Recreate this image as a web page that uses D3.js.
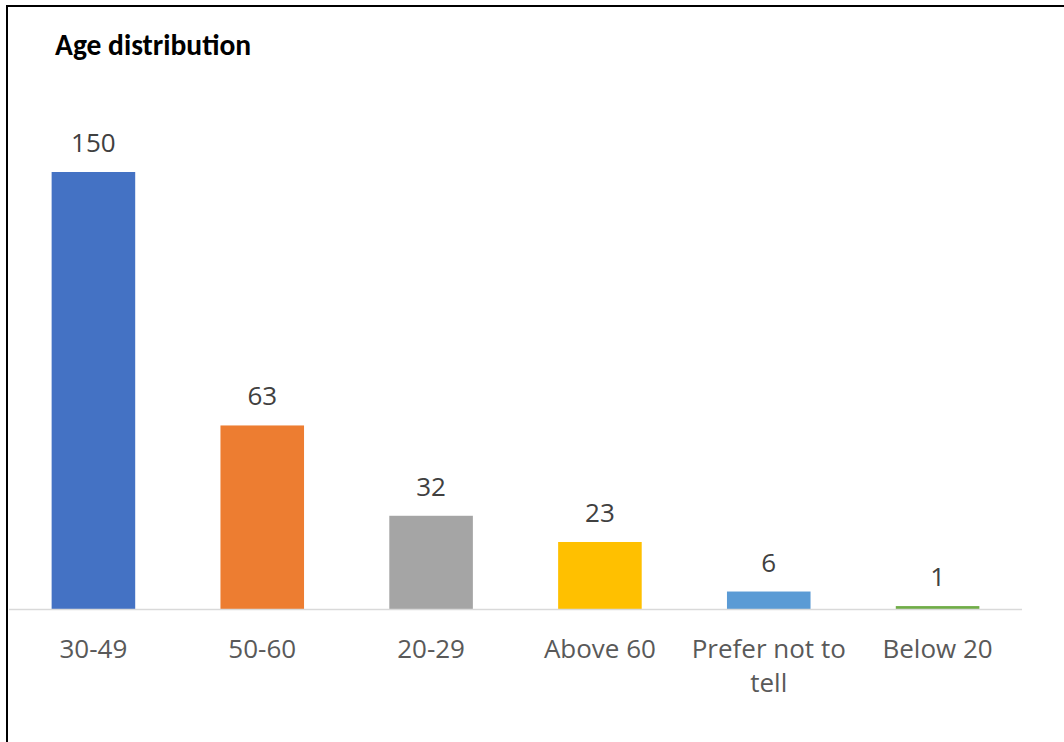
<!DOCTYPE html>
<html><head><meta charset="utf-8">
<script src="https://cdn.jsdelivr.net/npm/d3@7"></script>
<style>body{margin:0;background:#fff;}svg{display:block;}</style>
</head><body>
<svg id="c" width="1064" height="742"></svg>
<script>
const categories = ["30-49","50-60","20-29","Above 60","Prefer not to tell","Below 20"];
const labelLines = [["30-49"],["50-60"],["20-29"],["Above 60"],["Prefer not to","tell"],["Below 20"]];
const values = [150,63,32,23,6,1];
const colors = ["#4472C4","#ED7D31","#A5A5A5","#FFC000","#5B9BD5","#70AD47"];

const svg = d3.select("#c");
svg.append("rect").attr("x",0).attr("y",0).attr("width",1064).attr("height",742).attr("fill","#fff");
// frame
svg.append("line").attr("x1",7).attr("x2",1064).attr("y1",6).attr("y2",6).attr("stroke","#000").attr("stroke-width",2);
svg.append("line").attr("x1",7).attr("x2",7).attr("y1",5).attr("y2",742).attr("stroke","#000").attr("stroke-width",2);

svg.append("text").attr("x",55).attr("y",55).text("Age distribution")
  .attr("font-family","Carlito, 'Liberation Sans', Arial, sans-serif").attr("font-weight","bold")
  .attr("font-size",29.5).attr("fill","#000");

const x = d3.scaleBand().domain(categories).range([9,1022]).paddingInner(0.505).paddingOuter(0.2525);
const y = d3.scaleLinear().domain([0,150]).range([609,172]);

svg.selectAll("rect.bar").data(values).join("rect").attr("class","bar")
  .attr("x",(d,i)=>x(categories[i])).attr("width",x.bandwidth())
  .attr("y",d=>y(d)).attr("height",d=>y(0)-y(d)).attr("fill",(d,i)=>colors[i]);

svg.append("line").attr("x1",9).attr("x2",1022).attr("y1",y(0)+0.5).attr("y2",y(0)+0.5)
  .attr("stroke","#d9d9d9").attr("stroke-width",1.5);

const font = "'Open Sans', 'Noto Sans', sans-serif";
svg.selectAll("text.val").data(values).join("text").attr("class","val")
  .attr("x",(d,i)=>x(categories[i])+x.bandwidth()/2).attr("y",d=>y(d)-20)
  .attr("text-anchor","middle").attr("font-family",font).attr("font-size",26).attr("fill","#404040")
  .text(d=>d);

const g = svg.selectAll("text.cat").data(categories).join("text").attr("class","cat")
  .attr("x",d=>x(d)+x.bandwidth()/2).attr("y",658)
  .attr("text-anchor","middle").attr("font-family",font).attr("font-size",26).attr("fill","#595959");
g.each(function(d,i){
  const t = d3.select(this);
  labelLines[i].forEach((l,j)=>{
    t.append("tspan").attr("x",x(d)+x.bandwidth()/2).attr("dy",j===0?0:34).text(l);
  });
});
</script>
</body></html>
